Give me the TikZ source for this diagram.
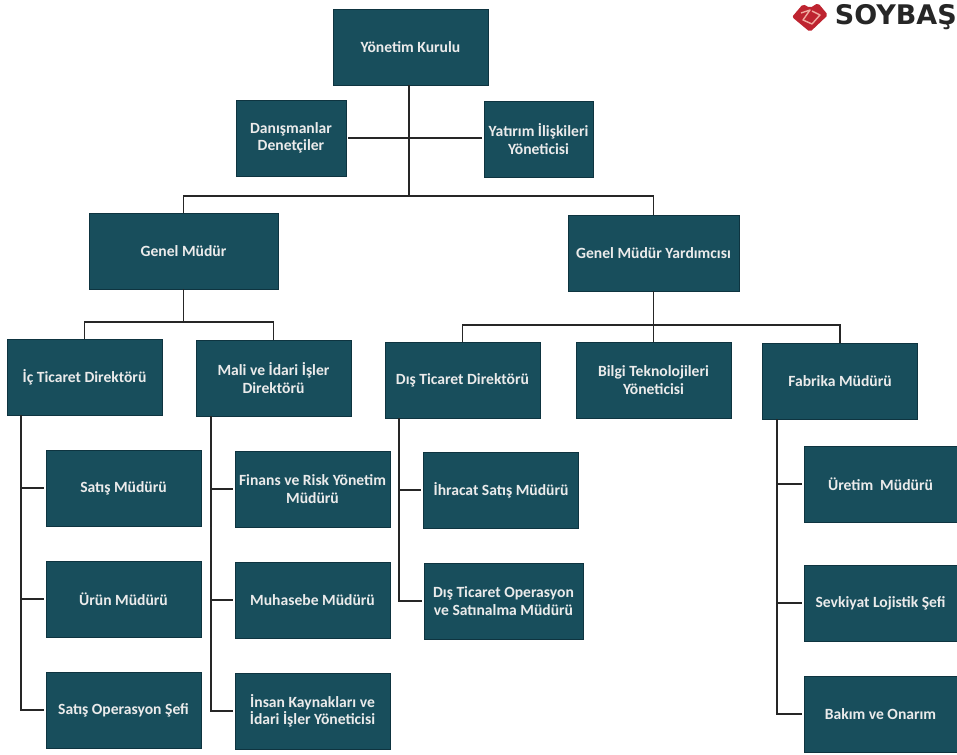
\documentclass[tikz,border=0pt]{standalone}
\usepackage{fontspec}
\setmainfont{Carlito}
\newfontfamily\logofont{DejaVu Sans}
\definecolor{boxteal}{RGB}{24,78,92}
\definecolor{boxedge}{RGB}{14,52,64}
\definecolor{logored}{RGB}{190,36,48}
\definecolor{logopink}{RGB}{240,170,160}
\tikzset{
  orgbox/.style={
    rectangle,
    draw=boxedge,
    fill=boxteal,
    text=white!92!black,
    line width=0.8pt,
    minimum width=155pt,
    minimum height=76pt,
    inner sep=0pt,
    align=center,
    font=\bfseries\fontsize{15.6}{17.5}\selectfont
  },
  orgline/.style={
    line width=1.1pt,
    draw=black!85
  },
  orgleaf/.style={
    orgline,
    shorten >=2pt
  }
}
\begin{document}
\begin{tikzpicture}[x=1pt,y=-1pt]
  \useasboundingbox (0,0) rectangle (957,754);
  % Top of the chart
  \node[orgbox] (kurul) at (410.5,47) {Yönetim Kurulu};
  \node[orgbox,minimum width=110pt] (danisman) at (291,138) {Danışmanlar\\Denetçiler};
  \node[orgbox,minimum width=109pt] (yatirim) at (538.5,139) {Yatırım İlişkileri\\Yöneticisi};
  \node[orgbox,minimum width=189pt] (genel) at (183.5,251) {Genel Müdür};
  \node[orgbox,minimum width=171pt] (yardimci) at (653.5,253) {Genel Müdür Yardımcısı};
  % Directors
  \node[orgbox] (ictic) at (84.5,377) {İç Ticaret Direktörü};
  \node[orgbox] (mali) at (273.5,378) {Mali ve İdari İşler\\Direktörü};
  \node[orgbox] (distic) at (462.5,380) {Dış Ticaret Direktörü};
  \node[orgbox] (bilgi) at (653.5,380) {Bilgi Teknolojileri\\Yöneticisi};
  \node[orgbox] (fabrika) at (840,381) {Fabrika Müdürü};
  % Managers
  \node[orgbox] (satis) at (123.5,488) {Satış Müdürü};
  \node[orgbox] (urun) at (123.5,599) {Ürün Müdürü};
  \node[orgbox] (satisop) at (123.5,710) {Satış Operasyon Şefi};
  \node[orgbox] (finans) at (312.5,489) {Finans ve Risk Yönetim\\Müdürü};
  \node[orgbox] (muhasebe) at (312.5,600) {Muhasebe Müdürü};
  \node[orgbox] (insan) at (312.5,711) {İnsan Kaynakları ve\\İdari İşler Yöneticisi};
  \node[orgbox] (ihracat) at (501,490) {İhracat Satış Müdürü};
  \node[orgbox,minimum width=159pt] (disop) at (503.5,601) {Dış Ticaret Operasyon\\ve Satınalma Müdürü};
  \node[orgbox,minimum width=153pt] (uretim) at (880.5,484) {Üretim\ \ Müdürü};
  \node[orgbox,minimum width=153pt] (sevkiyat) at (880.5,603) {Sevkiyat Lojistik Şefi};
  \node[orgbox,minimum width=153pt] (bakim) at (880.5,714) {Bakım ve Onarım};
  % Joints of the lines
  \coordinate (topbus) at (409,196);
  \coordinate (leftbus) at (183.5,322);
  \coordinate (rightbus) at (653.5,325);
  \coordinate (icside) at (21,415);
  \coordinate (maliside) at (211,416);
  \coordinate (disside) at (399,418);
  \coordinate (fabside) at (777,419);
  % Lines
  \draw[orgline] (kurul.south -| topbus) -- (topbus);
  \draw[orgline,shorten <=2pt,shorten >=2pt] (danisman.east) -- (danisman.east -| yatirim.west);
  \draw[orgline] (genel.north) |- (topbus) -| (yardimci.north);
  \draw[orgline] (genel.south) -- (leftbus);
  \draw[orgline] (ictic.north) |- (leftbus) -| (mali.north);
  \draw[orgline] (yardimci.south) -- (bilgi.north);
  \draw[orgline] (distic.north) |- (rightbus) -| (fabrika.north);
  \foreach \leaf in {satis,urun,satisop}{
    \draw[orgleaf] (icside) |- (\leaf.west);
  }
  \foreach \leaf in {finans,muhasebe,insan}{
    \draw[orgleaf] (maliside) |- (\leaf.west);
  }
  \foreach \leaf in {ihracat,disop}{
    \draw[orgleaf] (disside) |- (\leaf.west);
  }
  \foreach \leaf in {uretim,sevkiyat,bakim}{
    \draw[orgleaf] (fabside) |- (\leaf.west);
  }
  % Logo
  \fill[logored,rounded corners=2pt] (792,17) -- (803,4) -- (810,8) -- (818,3) -- (828,15) -- (810,32) -- cycle;
  \draw[logopink,line width=1.4pt,line join=round] (801,13) -- (810,10) -- (803,20) -- (812,24) -- (820,15) -- (812,11);
  \node[anchor=east,inner sep=0pt,font=\logofont\bfseries\fontsize{27}{27}\selectfont,text=black!85] (logo) at (957,17) {SOYBAŞ};
\end{tikzpicture}
\end{document}
